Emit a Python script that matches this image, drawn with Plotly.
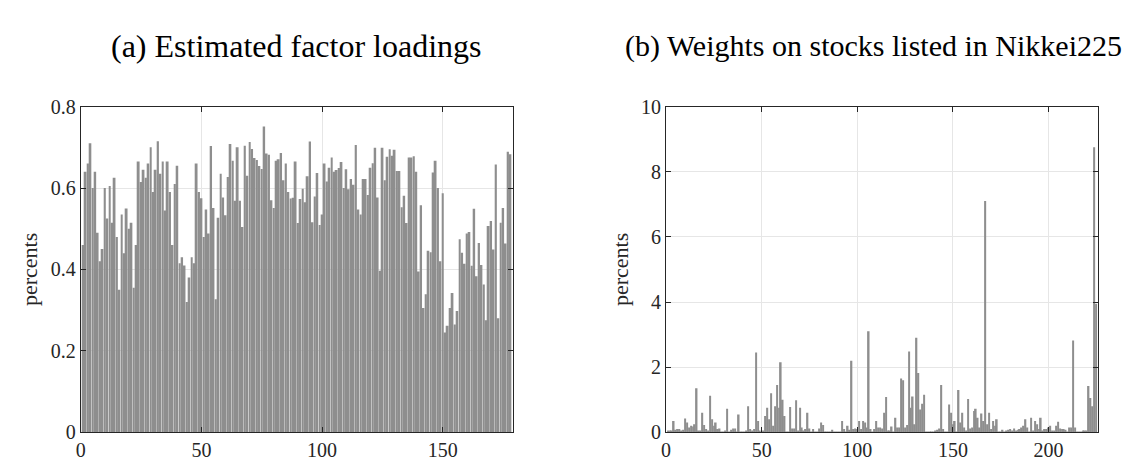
import plotly.graph_objects as go

# (a) estimated factor loadings, one bar per series (178)
loadings = [
    0.46, 0.64, 0.66, 0.71, 0.60, 0.64, 0.49, 0.42, 0.45, 0.60,
    0.525, 0.605, 0.515, 0.625, 0.48, 0.35, 0.535, 0.44, 0.55, 0.50,
    0.515, 0.355, 0.46, 0.665, 0.615, 0.645, 0.625, 0.66, 0.70, 0.59,
    0.645, 0.715, 0.635, 0.665, 0.545, 0.665, 0.59, 0.46, 0.61, 0.655,
    0.415, 0.43, 0.41, 0.32, 0.38, 0.43, 0.415, 0.66, 0.59, 0.575,
    0.48, 0.547, 0.488, 0.703, 0.551, 0.327, 0.527, 0.635, 0.577, 0.533,
    0.627, 0.708, 0.667, 0.569, 0.70, 0.569, 0.504, 0.704, 0.63, 0.713,
    0.696, 0.674, 0.669, 0.654, 0.647, 0.751, 0.685, 0.682, 0.57, 0.551,
    0.667, 0.671, 0.686, 0.619, 0.66, 0.59, 0.574, 0.576, 0.665, 0.514,
    0.573, 0.598, 0.565, 0.629, 0.714, 0.516, 0.579, 0.637, 0.509, 0.535,
    0.66, 0.616, 0.65, 0.675, 0.64, 0.644, 0.649, 0.664, 0.60, 0.646,
    0.597, 0.622, 0.608, 0.706, 0.547, 0.535, 0.622, 0.622, 0.583, 0.65,
    0.661, 0.699, 0.577, 0.397, 0.699, 0.619, 0.677, 0.695, 0.679, 0.694,
    0.642, 0.642, 0.553, 0.581, 0.514, 0.675, 0.675, 0.678, 0.64, 0.395,
    0.558, 0.305, 0.339, 0.446, 0.442, 0.638, 0.667, 0.60, 0.42, 0.587,
    0.245, 0.262, 0.305, 0.342, 0.265, 0.298, 0.474, 0.441, 0.414, 0.488,
    0.492, 0.409, 0.549, 0.383, 0.465, 0.411, 0.363, 0.275, 0.507, 0.519,
    0.449, 0.658, 0.28, 0.515, 0.551, 0.464, 0.689, 0.683,
]

# (b) weights on Nikkei225 stocks (225)
weights = [
    0.05, 0.03, 0.05, 0.35, 0.08, 0.1, 0.1, 0.05, 0.08, 0.42,
    0.3, 0.15, 0.2, 0.18, 0.25, 1.35, 0.05, 0.05, 0.6, 0.22,
    0.1, 0.03, 1.12, 0.4, 0.2, 0.3, 0.1, 0.12, 0.02, 0.02,
    0.05, 0.72, 0.02, 0.08, 0.12, 0.12, 0.02, 0.55, 0.02, 0.02,
    0.02, 0.05, 0.8, 0.1, 0.05, 0.1, 2.45, 0.35, 0.05, 0.02,
    0.05, 0.5, 0.75, 0.4, 1.2, 0.2, 0.8, 1.45, 0.75, 2.15,
    1.0, 0.5, 0.02, 0.02, 0.78, 0.12, 0.12, 0.98, 0.05, 0.75,
    0.15, 0.05, 0.1, 0.6, 0.12, 0.02, 0.1, 0.02, 0.02, 0.12,
    0.3, 0.22, 0.02, 0.02, 0.02, 0.02, 0.08, 0.02, 0.02, 0.02,
    0.02, 0.35, 0.1, 0.02, 0.2, 0.08, 2.2, 0.1, 0.12, 0.1,
    0.35, 0.1, 0.35, 0.3, 0.15, 3.1, 0.1, 0.02, 0.1, 0.35,
    0.15, 0.15, 0.12, 0.6, 1.08, 0.05, 0.05, 0.18, 0.02, 0.45,
    0.15, 0.15, 1.65, 1.6, 0.15, 0.22, 2.48, 0.75, 1.1, 0.25,
    2.9, 1.82, 0.7, 0.88, 1.15, 0.02, 0.02, 0.02, 0.02, 0.02,
    0.05, 0.08, 0.12, 1.45, 0.1, 0.02, 0.02, 0.85, 0.6, 0.25,
    0.35, 0.02, 1.3, 0.3, 0.6, 0.15, 0.05, 1.02, 0.12, 0.15,
    0.65, 0.72, 0.45, 0.15, 0.58, 0.35, 7.1, 0.25, 0.6, 0.1,
    0.35, 0.2, 0.4, 0.02, 0.02, 0.08, 0.02, 0.05, 0.08, 0.1,
    0.05, 0.12, 0.05, 0.08, 0.1, 0.15, 0.2, 0.4, 0.15, 0.02,
    0.45, 0.05, 0.35, 0.25, 0.1, 0.45, 0.05, 0.1, 0.1, 0.15,
    0.2, 0.05, 0.05, 0.2, 0.32, 0.12, 0.1, 0.1, 0.08, 0.02,
    0.15, 0.15, 2.82, 0.15, 0.02, 0.02, 0.02, 0.05, 0.05, 0.05,
    1.42, 1.05, 0.8, 8.75, 3.95,
]

titles = ["(a) Estimated factor loadings", "(b) Weights on stocks listed in Nikkei225"]
FONT = "Liberation Serif"
W, H = 1134, 461

fig = go.Figure()
fig.add_trace(go.Bar(x=list(range(1, len(loadings) + 1)), y=loadings,
                     marker=dict(color="#8e8e8e", line=dict(width=0)),
                     xaxis="x", yaxis="y", showlegend=False))
fig.add_trace(go.Bar(x=list(range(1, len(weights) + 1)), y=weights,
                     marker=dict(color="#8e8e8e", line=dict(width=0)),
                     xaxis="x2", yaxis="y2", showlegend=False))

ax_common = dict(showline=True, linecolor="#262626", linewidth=1, mirror="allticks",
                 ticks="inside", ticklen=5, tickcolor="#262626",
                 showgrid=True, gridcolor="#e6e6e6", zeroline=False,
                 tickfont=dict(family=FONT, size=20, color="#262626"))
ytitle = dict(text="percents", font=dict(family=FONT, size=22, color="#262626"), standoff=6)

ydom = [(H - 434) / H, (H - 92) / H]
fig.update_layout(
    width=W, height=H, plot_bgcolor="white", paper_bgcolor="white",
    margin=dict(l=0, r=0, t=0, b=0), bargap=0.2,
    xaxis=dict(domain=[68 / W, 502 / W], range=[0, 179], tickvals=[0, 50, 100, 150],
               anchor="y", **ax_common),
    yaxis=dict(domain=ydom, range=[0, 0.8], tickvals=[0, 0.2, 0.4, 0.6, 0.8],
               ticktext=["0", "0.2", "0.4", "0.6", "0.8"], anchor="x",
               title=ytitle, **ax_common),
    xaxis2=dict(domain=[656 / W, 1090 / W], range=[0, 226], tickvals=[0, 50, 100, 150, 200],
                anchor="y2", **ax_common),
    yaxis2=dict(domain=ydom, range=[0, 10], tickvals=[0, 2, 4, 6, 8, 10], anchor="x2",
                title=ytitle, **ax_common),
)

for cx, t, fs in zip([285 / W, 864 / W], titles, [32, 30]):
    fig.add_annotation(text=t, x=cx, y=1 - 28 / H, xref="paper", yref="paper",
                       showarrow=False, xanchor="center", yanchor="middle",
                       font=dict(family=FONT, size=fs, color="black"))

fig.write_html("out.html")
